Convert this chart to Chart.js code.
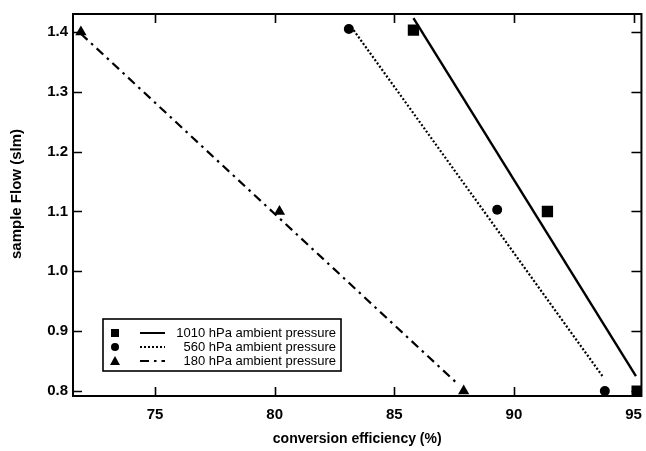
<!DOCTYPE html>
<html>
<head>
<meta charset="utf-8">
<script src="https://cdn.jsdelivr.net/npm/chart.js@4/dist/chart.umd.min.js"></script>
<style>
  html, body { margin: 0; padding: 0; background: #fff; overflow: hidden; }
  #wrap { width: 652px; height: 451px; }
</style>
</head>
<body>
<div id="wrap"><canvas id="graf" width="652" height="451"></canvas></div>
<script>
"use strict";

// maalepunkter
const kvadratX = [85.8, 91.4, 95.15];
const kvadratY = [1.403, 1.100, 0.800];
const cirkelX  = [83.1, 89.3, 93.8];
const cirkelY  = [1.405, 1.103, 0.800];
const trekantX = [71.9, 80.2, 87.9];
const trekantY = [1.400, 1.100, 0.800];

// tilpassede linjer (endepunkter)
const linje1010X = [85.8, 95.1];
const linje1010Y = [1.423, 0.825];
const linje560X  = [83.3, 93.7];
const linje560Y  = [1.403, 0.825];
const linje180X  = [71.9, 87.7];
const linje180Y  = [1.397, 0.810];

const xTicks = [75, 80, 85, 90, 95];
const yTicks = [0.8, 0.9, 1.0, 1.1, 1.2, 1.3, 1.4];

const yTitel = "sample Flow (slm)";
const legendTekster = [
  "1010 hPa ambient pressure",
  "560 hPa ambient pressure",
  "180 hPa ambient pressure"
];

const punkter = (xs, ys) => xs.map((x, i) => ({ x: x, y: ys[i] }));

const STREG1010 = [];
const STREG560  = [2, 2];
const STREG180  = [9, 5, 2.5, 5];

const rammePlugin = {
  id: "ramme",
  beforeDatasetsDraw(chart) {
    const { ctx, chartArea: a, scales } = chart;
    ctx.save();
    ctx.strokeStyle = "#000";
    ctx.lineWidth = 2;
    ctx.strokeRect(a.left, a.top, a.right - a.left, a.bottom - a.top);
    ctx.lineWidth = 1.6;
    ctx.beginPath();
    xTicks.forEach(v => {
      const px = Math.round(scales.x.getPixelForValue(v)) + 0.5;
      ctx.moveTo(px, a.bottom); ctx.lineTo(px, a.bottom - 9);
      ctx.moveTo(px, a.top);    ctx.lineTo(px, a.top + 9);
    });
    yTicks.forEach(v => {
      const py = Math.round(scales.y.getPixelForValue(v)) + 0.5;
      ctx.moveTo(a.left, py);  ctx.lineTo(a.left + 9, py);
      ctx.moveTo(a.right, py); ctx.lineTo(a.right - 10, py);
    });
    ctx.stroke();

    // y-aksens titel
    ctx.save();
    ctx.translate(17, 194);
    ctx.rotate(-Math.PI / 2);
    ctx.fillStyle = "#000";
    ctx.font = "bold 15px 'Liberation Sans', Arial, sans-serif";
    ctx.textAlign = "center";
    ctx.textBaseline = "middle";
    ctx.fillText(yTitel, 0, 0);
    ctx.restore();
    ctx.restore();
  },
  afterDraw(chart) {
    const ctx = chart.ctx;
    const boks = { x: 103, y: 319, w: 238, h: 52 };
    const raekker = [333, 347, 361];
    const streger = [STREG1010, STREG560, STREG180];
    ctx.save();
    ctx.fillStyle = "#fff";
    ctx.fillRect(boks.x, boks.y, boks.w, boks.h);
    ctx.strokeStyle = "#000";
    ctx.lineWidth = 1.6;
    ctx.strokeRect(boks.x, boks.y, boks.w, boks.h);
    ctx.fillStyle = "#000";
    raekker.forEach((y, i) => {
      // markør
      ctx.beginPath();
      if (i === 0) ctx.rect(111, y - 4, 8, 8);
      else if (i === 1) ctx.arc(115, y, 4, 0, Math.PI * 2);
      else { ctx.moveTo(115, y - 5); ctx.lineTo(120, y + 4); ctx.lineTo(110, y + 4); ctx.closePath(); }
      ctx.fill();
      // linjeprøve
      ctx.beginPath();
      ctx.setLineDash(streger[i]);
      ctx.lineWidth = 2;
      ctx.moveTo(140, y); ctx.lineTo(165, y);
      ctx.stroke();
      ctx.setLineDash([]);
      // tekst
      ctx.font = "13px 'Liberation Sans', Arial, sans-serif";
      ctx.textAlign = "right";
      ctx.textBaseline = "middle";
      ctx.fillText(legendTekster[i], 336, y);
    });
    ctx.restore();
  }
};

const sort = "#000";
const akseFont = { family: "'Liberation Sans', Arial, sans-serif", size: 15, weight: "bold" };
const titelFont = { family: "'Liberation Sans', Arial, sans-serif", size: 14, weight: "bold" };

new Chart(document.getElementById("graf").getContext("2d"), {
  type: "scatter",
  data: {
    datasets: [
      { label: "1010 fit", data: punkter(linje1010X, linje1010Y), showLine: true, borderColor: sort, borderWidth: 2.4, borderDash: STREG1010, pointRadius: 0 },
      { label: "560 fit",  data: punkter(linje560X, linje560Y),   showLine: true, borderColor: sort, borderWidth: 2.2, borderDash: STREG560,  pointRadius: 0 },
      { label: "180 fit",  data: punkter(linje180X, linje180Y),   showLine: true, borderColor: sort, borderWidth: 2.2, borderDash: STREG180,  pointRadius: 0 },
      { label: "1010 hPa", data: punkter(kvadratX, kvadratY), pointStyle: "rect",     pointRadius: 8,   backgroundColor: sort, borderColor: sort, borderWidth: 0 },
      { label: "560 hPa",  data: punkter(cirkelX, cirkelY),   pointStyle: "circle",   pointRadius: 5,   backgroundColor: sort, borderColor: sort, borderWidth: 0 },
      { label: "180 hPa",  data: punkter(trekantX, trekantY), pointStyle: "triangle", pointRadius: 6.5, backgroundColor: sort, borderColor: sort, borderWidth: 0 }
    ]
  },
  options: {
    responsive: false,
    animation: false,
    devicePixelRatio: 1,
    layout: { padding: { top: 13, right: 4, left: 0, bottom: 0 } },
    plugins: { legend: { display: false }, tooltip: { enabled: false } },
    scales: {
      x: {
        type: "linear",
        min: 71.57,
        max: 95.33,
        afterBuildTicks: s => { s.ticks = xTicks.map(v => ({ value: v })); },
        afterFit: s => { s.height = 55; },
        grid: { display: false, drawTicks: false },
        border: { display: false },
        ticks: { color: sort, font: akseFont, padding: 10, callback: v => String(v) },
        title: { display: true, text: "conversion efficiency (%)", color: sort, font: titelFont, padding: { top: 0, bottom: 3 } }
      },
      y: {
        type: "linear",
        min: 0.7917,
        max: 1.43,
        afterBuildTicks: s => { s.ticks = yTicks.map(v => ({ value: v })); },
        afterFit: s => { s.width = 73; },
        grid: { display: false, drawTicks: false },
        border: { display: false },
        ticks: { color: sort, font: akseFont, padding: 5, callback: v => v.toFixed(1) },
        title: { display: false }
      }
    }
  },
  plugins: [rammePlugin]
});
</script>
</body>
</html>
